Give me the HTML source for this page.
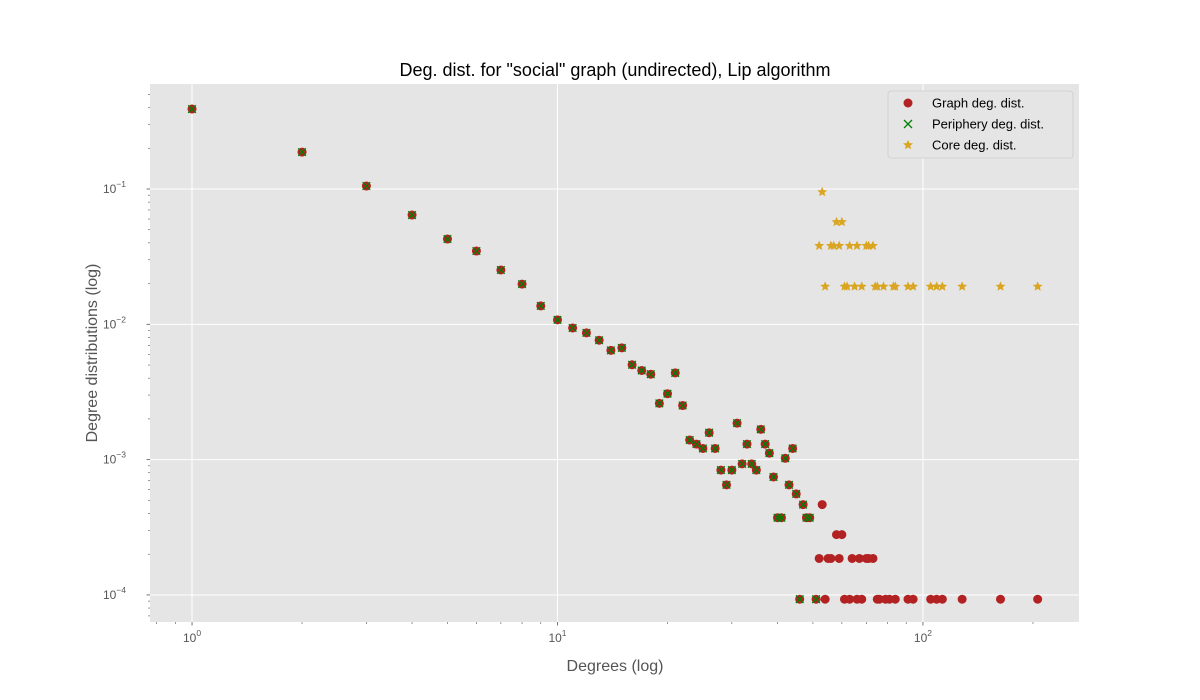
<!DOCTYPE html>
<html><head><meta charset="utf-8"><style>
html,body{margin:0;padding:0;background:#fff;}
svg{display:block;font-family:"Liberation Sans","DejaVu Sans",sans-serif;}
</style></head><body>
<svg id="chart" width="1200" height="700" viewBox="0 0 1200 700" xmlns="http://www.w3.org/2000/svg"></svg>
<script>
const graphDegrees=[1,2,3,4,5,6,7,8,9,10,11,12,13,14,15,16,17,18,19,20,21,22,23,24,25,26,27,28,29,30,31,32,33,34,35,36,37,38,39,40,41,42,43,44,45,46,47,48,49,51,52,53,54,55,56,58,59,60,61,63,64,66,67,68,70,71,73,75,76,79,81,84,91,94,105,109,113,128,163,206];
const graphCounts=[4190,2015,1131,690,459,374,271,213,147,116,101,93,82,69,72,54,49,46,28,33,47,27,15,14,13,17,13,9,7,9,20,10,14,10,9,18,14,12,8,4,4,11,7,13,6,1,5,4,4,1,2,5,1,2,2,3,2,3,1,1,2,1,2,1,2,2,2,1,1,1,1,1,1,1,1,1,1,1,1,1];
const graphTotal=10750;
const periDegrees=[1,2,3,4,5,6,7,8,9,10,11,12,13,14,15,16,17,18,19,20,21,22,23,24,25,26,27,28,29,30,31,32,33,34,35,36,37,38,39,40,41,42,43,44,45,46,47,48,49,51];
const periCounts=[4190,2015,1131,690,459,374,271,213,147,116,101,93,82,69,72,54,49,46,28,33,47,27,15,14,13,17,13,9,7,9,20,10,14,10,9,18,14,12,8,4,4,11,7,13,6,1,5,4,4,1];
const coreDegrees=[53,58,60,52,56,57,59,63,66,70,71,73,54,61,62,65,68,74,75,78,83,84,91,94,105,109,113,128,163,206];
const coreCounts=[5,3,3,2,2,2,2,2,2,2,2,2,1,1,1,1,1,1,1,1,1,1,1,1,1,1,1,1,1,1];
const coreTotal=52.6;
const xTickLabels=["10","10","10"];
const xTickExps=[0,1,2];
const yTickExps=[-1,-2,-3,-4];

const NS="http://www.w3.org/2000/svg";
const svg=document.getElementById('chart');
const L=150,R=1079,T=84,B=622;
const xMin=-0.115,xMax=2.427,yMin=-4.2,yMax=-0.224;
function xs(v){return L+(Math.log10(v)-xMin)/(xMax-xMin)*(R-L);}
function ys(v){return B-(Math.log10(v)-yMin)/(yMax-yMin)*(B-T);}
function mk(tag,attrs,parent){const e=document.createElementNS(NS,tag);for(const k in attrs)e.setAttribute(k,attrs[k]);(parent||svg).appendChild(e);return e;}

const bg=mk('rect',{x:L,y:T,width:R-L,height:B-T,fill:'#e5e5e5'});



const grid=mk('g',{});


const axes=mk('g',{});


for(let d=-1;d<=2;d++){for(let m=1;m<10;m++){const v=m*Math.pow(10,d);const lv=Math.log10(v);if(lv<xMin||lv>xMax)continue;const x=xs(v);
 if(m===1)mk('line',{x1:x,x2:x,y1:T,y2:B,stroke:'#fff','stroke-width':1},grid);
 mk('line',{x1:x,x2:x,y1:B,y2:B+(m===1?3.5:2),stroke:'#555','stroke-width':m===1?0.8:0.6},axes);}}
for(let d=-5;d<=0;d++){for(let m=1;m<10;m++){const v=m*Math.pow(10,d);const lv=Math.log10(v);if(lv<yMin||lv>yMax)continue;const y=ys(v);
 if(m===1)mk('line',{x1:L,x2:R,y1:y,y2:y,stroke:'#fff','stroke-width':1},grid);
 mk('line',{x1:L,x2:L-(m===1?3.5:2),y1:y,y2:y,stroke:'#555','stroke-width':m===1?0.8:0.6},axes);}}

xTickExps.forEach((e,i)=>{const x=xs(Math.pow(10,e));
 const t=mk('text',{x:x,y:B+20,'text-anchor':'middle','font-size':12,fill:'#555'},axes);
 
 
 t.textContent=xTickLabels[i];
 const s=mk('tspan',{dy:-6,'font-size':8.5},t);s.textContent=String(e);});
yTickExps.forEach(e=>{const y=ys(Math.pow(10,e));
 const t=mk('text',{x:L-24,y:y+4,'text-anchor':'end','font-size':12,fill:'#555'},axes);
 
 
 t.textContent='10';
 const s=mk('tspan',{dy:-6,'font-size':8.5},t);s.textContent='\u2212'+Math.abs(e);});

const gG=mk('g',{});


graphDegrees.forEach((d,i)=>{const c=mk('circle',{cx:xs(d),cy:ys(graphCounts[i]/graphTotal),r:4.5,fill:'#b22222'},gG);
 
 });
const gP=mk('g',{});


periDegrees.forEach((d,i)=>{const x=xs(d),y=ys(periCounts[i]/graphTotal),s=3.8;
 const p=mk('path',{d:`M${x-s},${y-s}L${x+s},${y+s}M${x-s},${y+s}L${x+s},${y-s}`,stroke:'#008000','stroke-width':1.3,fill:'none'},gP);
 
 });
function star(x,y,r){let d='';for(let k=0;k<10;k++){const a=-Math.PI/2+k*Math.PI/5;const rr=k%2?r*0.45:r;d+=(k?'L':'M')+(x+rr*Math.cos(a)).toFixed(2)+','+(y+rr*Math.sin(a)).toFixed(2);}return d+'Z';}
const gC=mk('g',{});


coreDegrees.forEach((d,i)=>{const p=mk('path',{d:star(xs(d),ys(coreCounts[i]/coreTotal),5.2),fill:'#daa520'},gC);
 
 });

const title=mk('text',{x:615,y:76,'text-anchor':'middle','font-size':18,fill:'#000'});


title.textContent='Deg. dist. for "social" graph (undirected), Lip algorithm';
const xt=mk('text',{x:615,y:671,'text-anchor':'middle','font-size':16,fill:'#555'});


xt.textContent='Degrees (log)';
const yt=mk('text',{x:97,y:353,'text-anchor':'middle','font-size':16,fill:'#555',transform:'rotate(-90 97 353)'});


yt.textContent='Degree distributions (log)';

const lg=mk('g',{});


mk('rect',{x:888,y:91,width:185,height:67,rx:3,fill:'#e5e5e5',stroke:'#ccc','stroke-width':0.8},lg);
const labels=['Graph deg. dist.','Periphery deg. dist.','Core deg. dist.'];
labels.forEach((lab,i)=>{const y=103+i*21;const g=mk('g',{},lg);
 
 
 if(i===0)mk('circle',{cx:908,cy:y,r:4.5,fill:'#b22222'},g);
 if(i===1)mk('path',{d:`M904,${y-4}L912,${y+4}M904,${y+4}L912,${y-4}`,stroke:'#008000','stroke-width':1.3},g);
 if(i===2)mk('path',{d:star(908,y,5.2),fill:'#daa520'},g);
 const t=mk('text',{x:932,y:y+4.5,'font-size':13,fill:'#000'},g);t.textContent=lab;});
</script>
</body></html>
